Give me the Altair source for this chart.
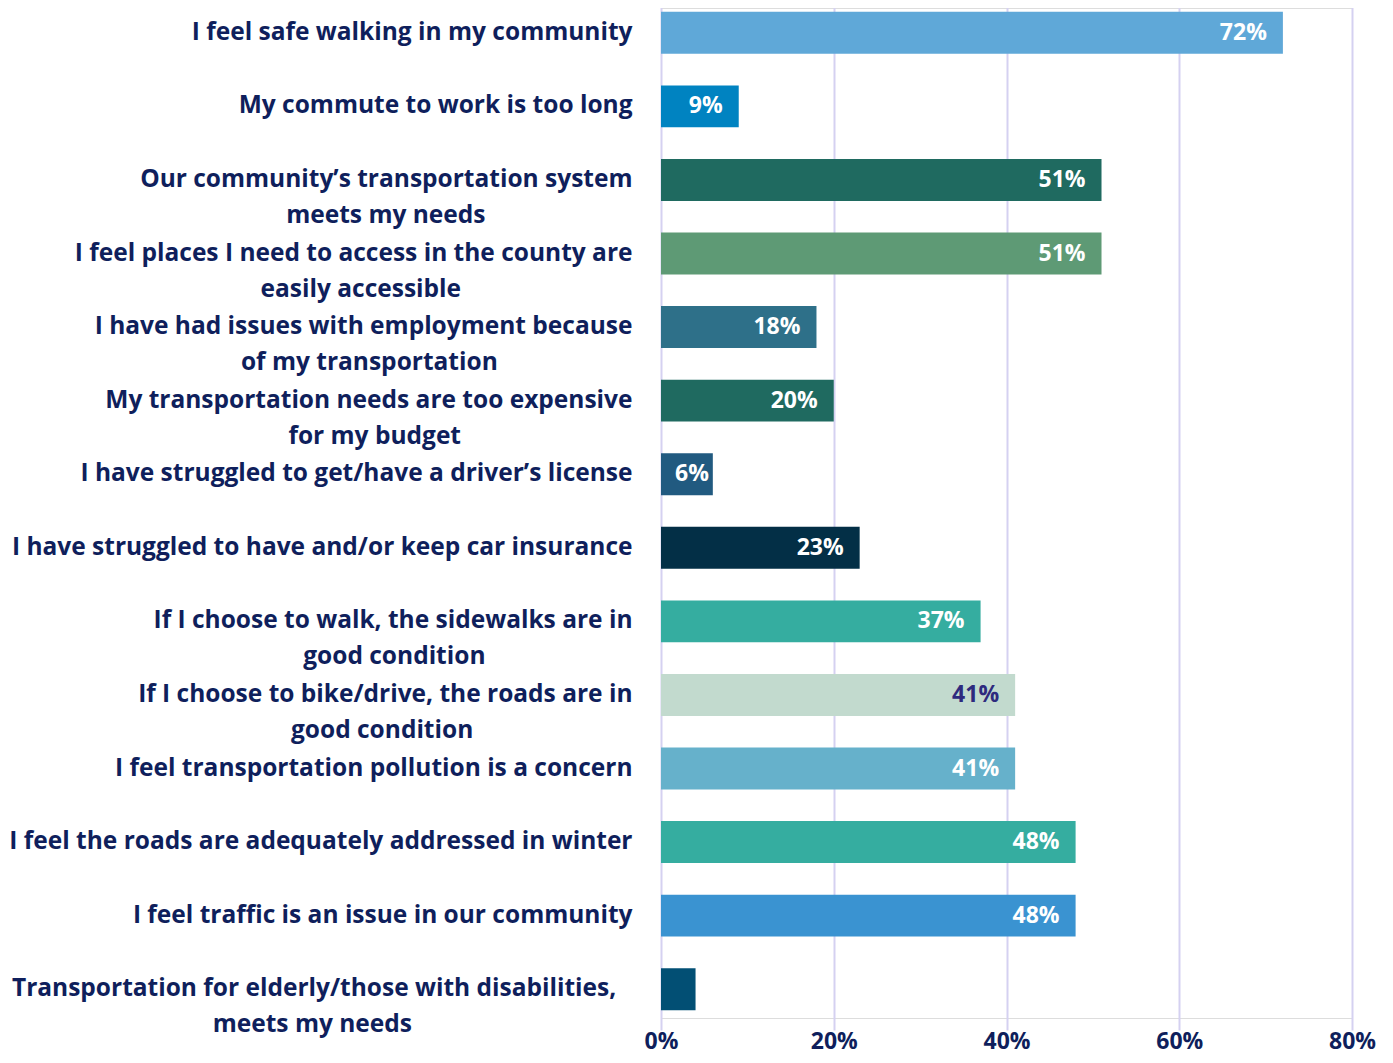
import altair as alt
import pandas as pd

EN = "\u2002"
THIN = "\u2009"
WJ = "\u2060"


def pad(n, thin=0):
    return EN * n + THIN * thin + WJ


categories = [
    "I feel safe walking in my community",
    "My commute to work is too long",
    "Our community\u2019s transportation system|meets my needs" + pad(12),
    "I feel places I need to access in the county are|easily accessible" + pad(14),
    "I have had issues with employment because|of my transportation" + pad(11),
    "My transportation needs are too expensive|for my budget" + pad(14),
    "I have struggled to get/have a driver\u2019s license",
    "I have struggled to have and/or keep car insurance",
    "If I choose to walk, the sidewalks are in|good condition" + pad(12),
    "If I choose to bike/drive, the roads are in|good condition" + pad(13),
    "I feel transportation pollution is a concern",
    "I feel the roads are adequately addressed in winter",
    "I feel traffic is an issue in our community",
    "Transportation for elderly/those with disabilities," + pad(1, 1) + "|meets my needs" + pad(18),
]
values = [72, 9, 51, 51, 18, 20, 6, 23, 37, 41, 41, 48, 48, 4]
value_labels = ["72%", "9%", "51%", "51%", "18%", "20%", "6%", "23%", "37%", "41%", "41%", "48%", "48%", ""]
bar_colors = ["#5fa8d8", "#0083c1", "#1f6a60", "#5e9a75", "#2e7089", "#1f6a60", "#215a80",
              "#032f46", "#35ada0", "#c2dace", "#66b1cb", "#35ada0", "#3a93d1", "#024f74"]
label_colors = ["#ffffff"] * 9 + ["#2e2a7e"] + ["#ffffff"] * 4
x_ticks = [0, 20, 40, 60, 80]

df = pd.DataFrame({
    "cat": categories,
    "v": values,
    "lab": value_labels,
    "lc": label_colors,
})

NAVY = "#0f1f5c"
FONT = "Open Sans"

y_enc = alt.Y(
    "cat:N",
    sort=categories,
    scale=alt.Scale(range=[-12, 1018], paddingInner=0.43, paddingOuter=0.215),
    axis=alt.Axis(
        title=None, domain=False, ticks=False, grid=False,
        labelExpr="split(datum.label, '|')",
        labelFont=FONT, labelFontSize=24.5, labelFontWeight="bold", labelColor=NAVY,
        labelLineHeight=36, labelPadding=29, labelLimit=0,
    ),
)

x_enc = alt.X(
    "v:Q",
    scale=alt.Scale(domain=[0, 80], nice=False),
    axis=alt.Axis(
        title=None, values=x_ticks, labelExpr="datum.value + '%'",
        domain=False, ticks=False, grid=True, gridColor="#d5d1f1", gridWidth=2,
        labelFont=FONT, labelFontSize=23, labelFontWeight="bold", labelColor=NAVY,
        labelPadding=12, labelFlush=False,
    ),
)

bars = alt.Chart(df).mark_bar().encode(
    y=y_enc,
    x=x_enc,
    color=alt.Color("cat:N", scale=alt.Scale(domain=categories, range=bar_colors), legend=None),
)

texts = alt.Chart(df).transform_calculate(
    xl="max(datum.v, 7.4)"
).mark_text(
    align="right", baseline="middle", dx=-16, font=FONT, fontSize=23, fontWeight="bold",
).encode(
    y=alt.Y("cat:N", sort=categories),
    x=alt.X("xl:Q"),
    text="lab:N",
    color=alt.Color("lc:N", scale=None),
)

chart = alt.layer(bars, texts).properties(
    width=691, height=1010,
    padding={"left": 653, "top": 0, "right": 30, "bottom": 37},
    autosize=alt.AutoSizeParams(type="none"),
).configure_view(strokeWidth=0, stroke="transparent").configure(background="#ffffff")

chart.save("out.html", embed_options={"renderer": "svg", "actions": False})
